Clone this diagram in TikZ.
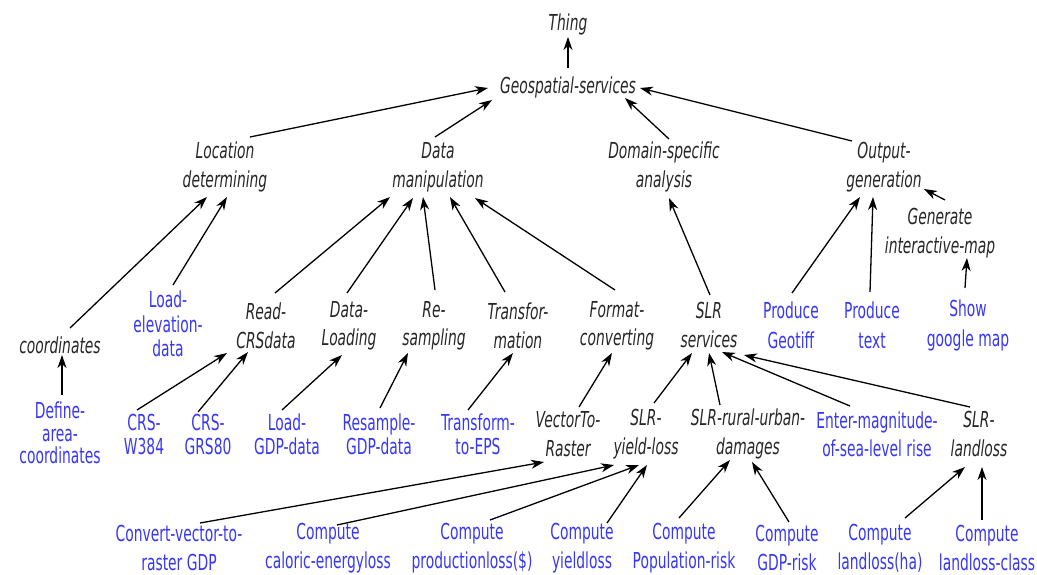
\documentclass[tikz,border=0pt]{standalone}
\usepackage{fontspec}
\usetikzlibrary{arrows.meta}
\newfontfamily\blkfont{DejaVu Sans Oblique}[FakeStretch=0.63]
\newfontfamily\blufont{DejaVu Sans}[FakeStretch=0.63]
\definecolor{lblue}{RGB}{55,55,245}
\tikzset{
  blk/.style={font=\blkfont\fontsize{22}{#1}\selectfont, align=center, inner sep=0pt, text=black!85},
  blk/.default=28.5,
  blu/.style={font=\blufont\fontsize{22}{#1}\selectfont, align=center, inner sep=0pt, text=lblue},
  blu/.default=24.5,
  arr/.style={line width=1.3pt, -{Stealth[length=13pt,width=9pt,inset=4pt]}}
}
\newcommand\edge[6]{\draw[arr] ([shift={(#2,#3)}]#1.center) -- ([shift={(#5,#6)}]#4.center);}
\begin{document}
\begin{tikzpicture}[x=1pt,y=-1pt]
\useasboundingbox (0,0) rectangle (1037,574);
% level 0/1
\node[blk] (thing) at (568,24) {Thing};
\node[blk] (geo) at (568,87) {Geospatial-services};
% level 2
\node[blk=29] (loc) at (225,167) {Location\\determining};
\node[blk=29] (dm) at (438,167) {Data\\manipulation};
\node[blk=29] (dsa) at (664,167) {Domain-specific\\analysis};
\node[blk=29] (og) at (884,167) {Output-\\generation};
\node[blk] (gim) at (940,233) {Generate\\interactive-map};
% level 3
\node[blk] (coord) at (60,345) {coordinates};
\node[blu] (led) at (168,324) {Load-\\elevation-\\data};
\node[blk] (rcrs) at (266,326) {Read-\\CRSdata};
\node[blk] (dl) at (349,326) {Data-\\Loading};
\node[blk] (rs) at (434,326) {Re-\\sampling};
\node[blk] (tm) at (518,326) {Transfor-\\mation};
\node[blk] (fc) at (617,326) {Format-\\converting};
\node[blk] (slrs) at (709,325) {SLR\\services};
\node[blu=30] (pg) at (791,325) {Produce\\Geotiff};
\node[blu=30] (pt) at (872,325) {Produce\\text};
\node[blu=30] (sgm) at (968,325) {Show\\google map};
% level 4
\node[blu=22.5] (dac) at (60,433) {Define-\\area-\\coordinates};
\node[blu=24] (crsw) at (144,434) {CRS-\\W384};
\node[blu=24] (crsg) at (208,434) {CRS-\\GRS80};
\node[blu=24] (lgdp) at (287,434) {Load-\\GDP-data};
\node[blu=24] (rgdp) at (379,434) {Resample-\\GDP-data};
\node[blu=24] (teps) at (478,434) {Transform-\\to-EPS};
\node[blk] (vtr) at (568,434) {VectorTo-\\Raster};
\node[blk] (syl) at (646,434) {SLR-\\yield-loss};
\node[blk] (srud) at (748,434) {SLR-rural-urban-\\damages};
\node[blu=28] (emsl) at (877,434) {Enter-magnitude-\\of-sea-level rise};
\node[blk] (sll) at (979,434) {SLR-\\landloss};
% level 5
\node[blu=29] (cvr) at (179,548) {Convert-vector-to-\\raster GDP};
\node[blu=29] (ccel) at (328,548) {Compute\\caloric-energyloss};
\node[blu=29] (cpl) at (472,548) {Compute\\productionloss(\$)};
\node[blu=29] (cyl) at (582,548) {Compute\\yieldloss};
\node[blu=29] (cpr) at (684,548) {Compute\\Population-risk};
\node[blu=29] (cgr) at (787,548) {Compute\\GDP-risk};
\node[blu=29] (clh) at (880,548) {Compute\\landloss(ha)};
\node[blu=29] (clc) at (987,548) {Compute\\landloss-class};
% edges
\edge{geo}{0}{-19}{thing}{0}{13}
\edge{loc}{25}{-30}{geo}{-80}{1}
\edge{dm}{-3}{-30}{geo}{-76}{13}
\edge{dsa}{5}{-28}{geo}{57}{11}
\edge{og}{-32}{-26}{geo}{72}{1}
\edge{coord}{10}{-17}{loc}{-18}{30}
\edge{led}{5}{-39}{loc}{2}{30}
\edge{rcrs}{9}{-33}{dm}{-48}{30}
\edge{dl}{-2}{-33}{dm}{-25}{31}
\edge{rs}{1}{-36}{dm}{-15}{30}
\edge{tm}{-13}{-34}{dm}{12}{30}
\edge{fc}{-2}{-36}{dm}{37}{31}
\edge{slrs}{1}{-30}{dsa}{5}{31}
\edge{pg}{1}{-32}{og}{-24}{30}
\edge{pt}{-2}{-33}{og}{-11}{30}
\edge{gim}{5}{-33}{og}{40}{22}
\edge{sgm}{-3}{-37}{gim}{27}{25}
\edge{dac}{2}{-38}{coord}{2}{10}
\edge{crsw}{-7}{-24}{rcrs}{-39}{27}
\edge{crsg}{-10}{-22}{rcrs}{-18}{26}
\edge{lgdp}{-5}{-24}{dl}{-7}{29}
\edge{rgdp}{1}{-26}{rs}{-26}{27}
\edge{teps}{-10}{-24}{tm}{-5}{27}
\edge{vtr}{11}{-27}{fc}{-5}{27}
\edge{syl}{8}{-31}{slrs}{-17}{28}
\edge{srud}{-28}{-29}{slrs}{0}{28}
\edge{emsl}{-27}{-28}{slrs}{13}{27}
\edge{sll}{-9}{-27}{slrs}{35}{30}
\edge{cvr}{21}{-25}{vtr}{-24}{28}
\edge{ccel}{9}{-23}{syl}{-32}{31}
\edge{cpl}{18}{-28}{syl}{-7}{31}
\edge{cyl}{25}{-25}{syl}{1}{31}
\edge{cpr}{-5}{-30}{srud}{-18}{26}
\edge{cgr}{2}{-26}{srud}{4}{28}
\edge{clh}{25}{-30}{sll}{-14}{33}
\edge{clc}{-5}{-28}{sll}{3}{33}
\end{tikzpicture}
\end{document}
